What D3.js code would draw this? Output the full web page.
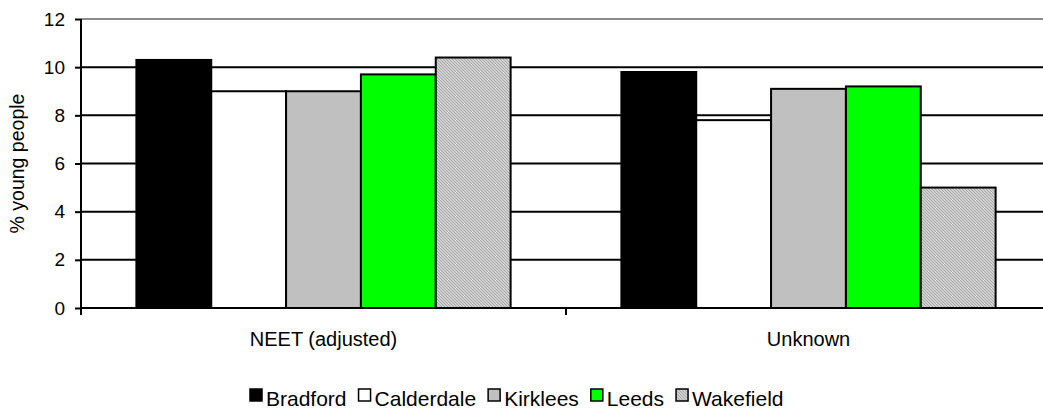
<!DOCTYPE html>
<html>
<head>
<meta charset="utf-8">
<script src="https://cdn.jsdelivr.net/npm/d3@7"></script>
<style>
  html, body { margin: 0; padding: 0; background: #fff; }
  svg { display: block; font-family: Arial, "Liberation Sans", sans-serif; }
</style>
</head>
<body>
<svg id="chart" width="1043" height="410"></svg>
<script>
// Chart data
const categories = ["NEET (adjusted)", "Unknown"];
const series = ["Bradford", "Calderdale", "Kirklees", "Leeds", "Wakefield"];
const bradford   = [10.3, 9.8];
const calderdale = [9.0, 7.8];
const kirklees   = [9.0, 9.1];
const leeds      = [9.7, 9.2];
const wakefield  = [10.4, 5.0];
const yTicks = [0, 2, 4, 6, 8, 10, 12];
const yTitle = "% young people";

const valuesBySeries = [bradford, calderdale, kirklees, leeds, wakefield];
const fills = ["#000000", "#ffffff", "#c0c0c0", "#00ff00", "url(#hatch)"];

const svg = d3.select("#chart");
const plot = { left: 81, right: 1051, top: 19, bottom: 308 };

// Fine diagonal hatch used for Wakefield
const defs = svg.append("defs");
const pat = defs.append("pattern")
  .attr("id", "hatch").attr("patternUnits", "userSpaceOnUse")
  .attr("width", 3).attr("height", 3);
pat.append("rect").attr("width", 3).attr("height", 3).attr("fill", "#d0d0d0");
pat.append("path").attr("d", "M0,0 L3,3 M-1,2 L1,4 M2,-1 L4,1")
  .attr("stroke", "#a0a0a0").attr("stroke-width", 0.8);

const x0 = d3.scaleBand().domain(categories).range([plot.left, plot.right]);
const x1 = d3.scaleBand().domain(series).range([0, x0.bandwidth()]).paddingOuter(0.74);
const y = d3.scaleLinear().domain([0, 12]).range([plot.bottom, plot.top]);

// Gridlines
svg.append("g").selectAll("line").data(yTicks.filter(d => d > 0)).join("line")
  .attr("x1", plot.left).attr("x2", plot.right)
  .attr("y1", d => y(d)).attr("y2", d => y(d))
  .attr("stroke", d => d === 12 ? "#8c8c8c" : "#000")
  .attr("stroke-width", 2);

// Bars
const groups = svg.append("g").selectAll("g").data(categories).join("g")
  .attr("transform", c => `translate(${x0(c)},0)`);
groups.selectAll("rect")
  .data((c, ci) => series.map((s, si) => ({ s, si, v: valuesBySeries[si][ci] })))
  .join("rect")
  .attr("x", d => x1(d.s))
  .attr("y", d => y(d.v))
  .attr("width", x1.bandwidth())
  .attr("height", d => y(0) - y(d.v))
  .attr("fill", d => fills[d.si])
  .attr("stroke", "#000")
  .attr("stroke-width", 2);

// Y axis
const yAxis = svg.append("g").attr("transform", `translate(${plot.left},0)`)
  .call(d3.axisLeft(y).tickValues(yTicks).tickSize(6).tickPadding(10).tickFormat(d3.format("d")));
yAxis.select(".domain").attr("stroke", "#000").attr("stroke-width", 2)
  .attr("d", `M0,${plot.top}V${plot.bottom}`);
yAxis.selectAll(".tick line").attr("stroke", "#000").attr("stroke-width", 2);
yAxis.selectAll(".tick text").attr("font-size", 19).attr("fill", "#000")
  .attr("font-family", "Arial, 'Liberation Sans', sans-serif");

// X axis
const xAxis = svg.append("g").attr("transform", `translate(0,${plot.bottom})`)
  .call(d3.axisBottom(x0).tickSize(0).tickPadding(24));
xAxis.select(".domain").attr("stroke", "#000").attr("stroke-width", 2)
  .attr("d", `M${plot.left},0H${plot.right}`);
xAxis.selectAll(".tick text").attr("font-size", 20).attr("fill", "#000")
  .attr("font-family", "Arial, 'Liberation Sans', sans-serif");
// Category separator ticks
const bounds = [plot.left, ...categories.map(c => x0(c) + x0.bandwidth())];
xAxis.append("g").selectAll("line").data(bounds).join("line")
  .attr("x1", d => d).attr("x2", d => d).attr("y1", 0).attr("y2", 7)
  .attr("stroke", "#000").attr("stroke-width", 2);

// Y title
svg.append("text")
  .attr("transform", `translate(24,${(plot.top + plot.bottom) / 2}) rotate(-90)`)
  .attr("text-anchor", "middle")
  .attr("font-size", 19.5)
  .text(yTitle);

// Legend: swatch + label, laid out left to right
const legend = svg.append("g").attr("transform", "translate(0,399)");
const items = legend.selectAll("g").data(series).join("g");
items.append("rect").attr("y", -10).attr("width", 12).attr("height", 12)
  .attr("fill", (d, i) => fills[i]).attr("stroke", "#000").attr("stroke-width", 1.5);
items.append("text").attr("x", 16).attr("y", 7).attr("font-size", 21).text(d => d);
const widths = [];
items.each(function () {
  widths.push(16 + this.querySelector("text").getComputedTextLength());
});
const gap = 12;
let cx = 250;
items.attr("transform", (d, i) => {
  const t = `translate(${cx},0)`;
  cx += widths[i] + gap;
  return t;
});
</script>
</body>
</html>
